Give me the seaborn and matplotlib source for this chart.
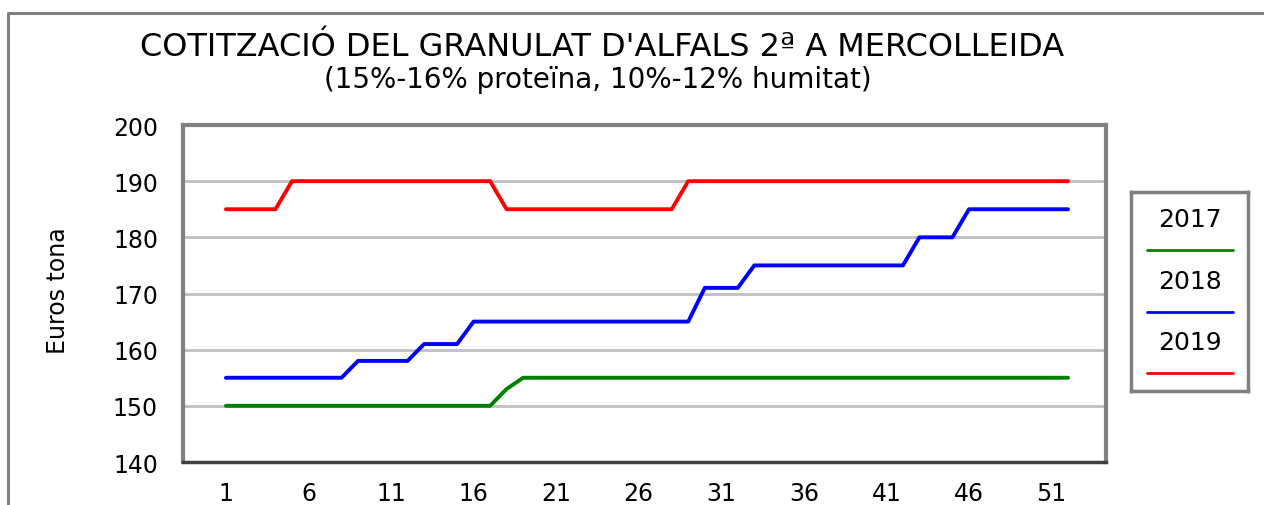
import numpy as np
import pandas as pd
import seaborn as sns
import matplotlib.pyplot as plt
from matplotlib.lines import Line2D

# Data: weekly price (euros/tona), weeks 1..52
weeks = list(range(1, 53))
price_2017 = [150] * 17 + [153] + [155] * 34
price_2018 = ([155] * 8 + [158] * 4 + [161] * 3 + [165] * 14 + [171] * 3
              + [175] * 10 + [180] * 3 + [185] * 7)
price_2019 = [185] * 4 + [190] * 13 + [185] * 11 + [190] * 24
years = ["2017", "2018", "2019"]
colors = {"2017": "#008000", "2018": "#0000ff", "2019": "#ff0000"}

df = pd.DataFrame({
    "week": weeks * 3,
    "price": price_2017 + price_2018 + price_2019,
    "year": [y for y in years for _ in weeks],
})

sns.set_theme(style="white")
plt.rcParams["font.family"] = ["DejaVu Sans"]
plt.rcParams["text.color"] = "black"

fig = plt.figure(figsize=(12.64, 5.06), dpi=100)
ax = fig.add_axes([183 / 1264, 1 - 463 / 506, (1106 - 183) / 1264, (463 - 126) / 506])

sns.lineplot(data=df, x="week", y="price", hue="year", palette=colors,
             linewidth=2.8, legend=False, ax=ax)

ax.set_xlim(-1.6, 54.3)
ax.set_ylim(140, 200)
ax.set_xticks(range(1, 53, 5))
ax.set_yticks(range(140, 201, 10))
for v in range(150, 200, 10):
    ax.axhline(v, color="#c0c0c0", lw=2, zorder=0)
ax.tick_params(axis="both", length=0, labelsize=17, colors="black")
ax.tick_params(axis="x", pad=14)
ax.tick_params(axis="y", pad=18)
ax.set_xlabel("")
ax.set_ylabel("Euros tona", fontsize=17, color="black")
ax.yaxis.set_label_coords(-0.122, 0.51)
for s in ax.spines.values():
    s.set_color("#808080")
    s.set_linewidth(3)
ax.spines["bottom"].set_color("#404040")
ax.spines["bottom"].set_linewidth(2.5)

fig.text(602 / 1264, 1 - 48 / 506, "COTITZACIÓ DEL GRANULAT D'ALFALS 2ª A MERCOLLEIDA",
         ha="center", va="center", fontsize=23, color="black")
fig.text(598 / 1264, 1 - 80 / 506, "(15%-16% proteïna, 10%-12% humitat)",
         ha="center", va="center", fontsize=20, color="black")

# outer border (left and top only)
fig.add_artist(Line2D([8 / 1264, 8 / 1264, 1.0], [0.0, 1 - 14 / 506, 1 - 14 / 506],
                      color="#808080", lw=2.2))

# legend box with labels above the line samples
lax = fig.add_axes([1131 / 1264, 1 - 392 / 506, (1248 - 1131) / 1264, (392 - 193) / 506])
lax.set_xlim(0, 1)
lax.set_ylim(0, 1)
lax.set_xticks([])
lax.set_yticks([])
for s in lax.spines.values():
    s.set_color("#808080")
    s.set_linewidth(2.5)
text_y = [220, 282, 343]
line_y = [251, 313, 374]
for yr, ty, ly in zip(years, text_y, line_y):
    lax.text(0.5, (392 - ty) / 199, yr, ha="center", va="center", fontsize=18,
             color="black", transform=lax.transAxes)
    lax.plot([0.14, 0.87], [(392 - ly) / 199] * 2, color=colors[yr], lw=2)

fig.savefig("out.png", dpi=100)
